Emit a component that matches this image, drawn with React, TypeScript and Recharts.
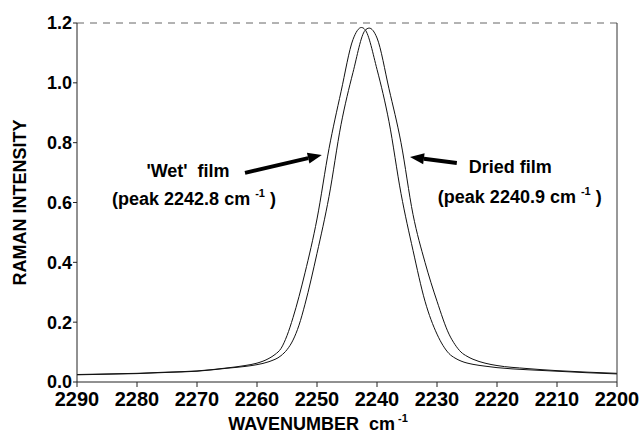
import React from "react";
import {
  LineChart,
  Line,
  XAxis,
  YAxis,
  ReferenceLine,
  ReferenceDot,
} from "recharts";

// 'Wet' film spectrum (peak 2242.8 cm-1)
const wetWavenumbers = [
  2290, 2285, 2280, 2275, 2270, 2265, 2262, 2260, 2258, 2257, 2256, 2255, 2254, 2252, 2250, 2248, 2246, 2244,
  2242.6, 2242, 2240, 2238, 2236, 2234, 2232, 2230, 2229, 2228, 2227, 2226, 2224, 2222, 2220, 2215, 2210, 2205, 2200,
];
const wetIntensity = [
  0.025, 0.027, 0.029, 0.033, 0.037, 0.047, 0.055, 0.063, 0.079, 0.092, 0.112, 0.155, 0.215, 0.365, 0.545, 0.78, 0.97, 1.145,
  1.185, 1.178, 1.045, 0.87, 0.63, 0.44, 0.27, 0.16, 0.122, 0.095, 0.08, 0.07, 0.059, 0.053, 0.048, 0.041, 0.036, 0.031, 0.027,
];

// Dried film spectrum (peak 2240.9 cm-1)
const driedWavenumbers = [
  2290, 2285, 2280, 2275, 2270, 2265, 2262, 2260, 2258, 2256, 2255, 2254, 2253, 2252, 2250, 2248, 2246, 2244,
  2242, 2241.3, 2240, 2238, 2236, 2234, 2232, 2230, 2228, 2227, 2226, 2225, 2224, 2222, 2220, 2215, 2210, 2205, 2200,
];
const driedIntensity = [
  0.024, 0.026, 0.028, 0.032, 0.036, 0.046, 0.052, 0.058, 0.068, 0.088, 0.108, 0.14, 0.19, 0.26, 0.43, 0.62, 0.86, 1.035,
  1.175, 1.183, 1.15, 0.98, 0.8, 0.56, 0.4, 0.27, 0.16, 0.125, 0.1, 0.086, 0.076, 0.063, 0.055, 0.045, 0.038, 0.033, 0.029,
];

const xTicks = [2290, 2280, 2270, 2260, 2250, 2240, 2230, 2220, 2210, 2200];
const yTicks = [0, 0.2, 0.4, 0.6, 0.8, 1.0, 1.2];

const wetData = wetWavenumbers.map((w, i) => ({ w, v: wetIntensity[i] }));
const driedData = driedWavenumbers.map((w, i) => ({ w, v: driedIntensity[i] }));

const FONT = "'Liberation Sans', Arial, Helvetica, sans-serif";

// annotation text, anchored in data coordinates
function noteShape(lines: { text: string; sup?: string; tail?: string }) {
  return (props: any) => (
    <text
      x={props.cx}
      y={props.cy}
      textAnchor="middle"
      fontFamily={FONT}
      fontWeight="bold"
      fontSize={18}
      fill="#000"
    >
      {lines.text}
      {lines.sup && (
        <tspan dy={-8} fontSize={11}>
          {lines.sup}
        </tspan>
      )}
      {lines.tail && <tspan dy={8}>{lines.tail}</tspan>}
    </text>
  );
}

// thick arrow, head at (x2, y2)
function arrowShape(props: any) {
  const { x1, y1, x2, y2 } = props;
  const ang = Math.atan2(y2 - y1, x2 - x1);
  const len = 14;
  const half = 5.5;
  const bx = x2 - len * Math.cos(ang);
  const by = y2 - len * Math.sin(ang);
  const px = -Math.sin(ang) * half;
  const py = Math.cos(ang) * half;
  return (
    <g>
      <line x1={x1} y1={y1} x2={bx} y2={by} stroke="#000" strokeWidth={4} />
      <polygon points={`${x2},${y2} ${bx + px},${by + py} ${bx - px},${by - py}`} fill="#000" />
    </g>
  );
}

export default function App() {
  return (
    <div style={{ width: 643, height: 434, background: "#fff" }}>
      <style>{`body{margin:0}`}</style>
      <LineChart width={643} height={434} margin={{ top: 22, right: 25, bottom: 0, left: 0 }}>
        <XAxis
          xAxisId="bottom"
          type="number"
          dataKey="w"
          domain={[2200, 2290]}
          reversed
          ticks={xTicks}
          height={52}
          tickSize={5}
          tickMargin={5}
          stroke="#222"
          tick={{ fontSize: 20, fontWeight: "bold", fill: "#000", fontFamily: FONT }}
          label={{
            content: (p: any) => (
              <text
                x={p.viewBox.x + 241}
                y={p.viewBox.y + 48}
                textAnchor="middle"
                fontFamily={FONT}
                fontWeight="bold"
                fontSize={18}
                fill="#000"
              >
                WAVENUMBER{"\u00a0\u00a0"}cm
                <tspan dy={-8} fontSize={11}>
                  {"\u00a0-1"}
                </tspan>
              </text>
            ),
          }}
        />
        <XAxis
          xAxisId="top"
          orientation="top"
          type="number"
          dataKey="w"
          domain={[2200, 2290]}
          reversed
          ticks={xTicks}
          tickSize={4}
          tick={false}
          height={1}
          axisLine={{ stroke: "#666", strokeDasharray: "7 6" }}
          tickLine={{ stroke: "#444" }}
        />
        <YAxis
          yAxisId="left"
          domain={[0, 1.2]}
          ticks={yTicks}
          width={77}
          tickSize={4}
          tickMargin={1}
          stroke="#222"
          tickFormatter={(v: number) => v.toFixed(1)}
          tick={{ fontSize: 18, fontWeight: "bold", fill: "#000", fontFamily: FONT }}
          label={{
            content: (p: any) => {
              const cx = 20;
              const cy = p.viewBox.y + p.viewBox.height / 2;
              return (
                <text
                  x={cx}
                  y={cy}
                  transform={`rotate(-90 ${cx} ${cy})`}
                  textAnchor="middle"
                  dominantBaseline="central"
                  fontFamily={FONT}
                  fontWeight="bold"
                  fontSize={18}
                  fill="#000"
                >
                  RAMAN INTENSITY
                </text>
              );
            },
          }}
        />
        <YAxis
          yAxisId="right"
          orientation="right"
          domain={[0, 1.2]}
          ticks={yTicks}
          width={1}
          tick={false}
          tickSize={4}
          stroke="#333"
        />

        <Line
          xAxisId="bottom"
          yAxisId="left"
          data={wetData}
          dataKey="v"
          type="monotone"
          stroke="#111"
          strokeWidth={1}
          dot={false}
          isAnimationActive={false}
        />
        <Line
          xAxisId="bottom"
          yAxisId="left"
          data={driedData}
          dataKey="v"
          type="monotone"
          stroke="#111"
          strokeWidth={1}
          dot={false}
          isAnimationActive={false}
        />

        <ReferenceLine
          xAxisId="bottom"
          yAxisId="left"
          segment={[
            { x: 2262, y: 0.699 },
            { x: 2249.2, y: 0.759 },
          ]}
          shape={arrowShape}
        />
        <ReferenceLine
          xAxisId="bottom"
          yAxisId="left"
          segment={[
            { x: 2226.7, y: 0.732 },
            { x: 2234.5, y: 0.752 },
          ]}
          shape={arrowShape}
        />

        <ReferenceDot xAxisId="bottom" yAxisId="left" x={2271.5} y={0.685} r={0} shape={noteShape({ text: "'Wet'\u00a0 film" })} />
        <ReferenceDot
          xAxisId="bottom"
          yAxisId="left"
          x={2270.5}
          y={0.592}
          r={0}
          shape={noteShape({ text: "(peak 2242.8 cm\u00a0", sup: "-1", tail: "\u00a0)" })}
        />
        <ReferenceDot xAxisId="bottom" yAxisId="left" x={2217.8} y={0.699} r={0} shape={noteShape({ text: "Dried film" })} />
        <ReferenceDot
          xAxisId="bottom"
          yAxisId="left"
          x={2216.2}
          y={0.598}
          r={0}
          shape={noteShape({ text: "(peak 2240.9 cm\u00a0", sup: "-1", tail: "\u00a0)" })}
        />
      </LineChart>
    </div>
  );
}
